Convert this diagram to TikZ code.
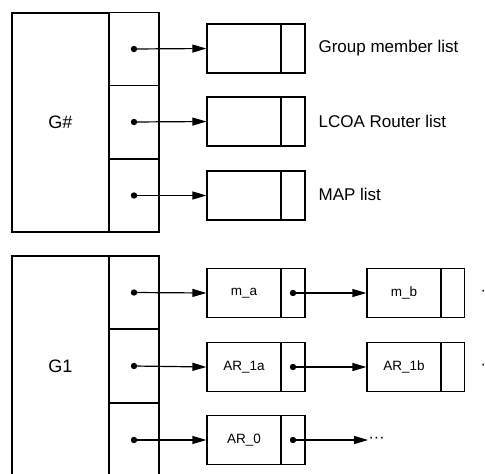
\documentclass[tikz,border=0pt]{standalone}
\usepackage{fontspec}
\setmainfont{Liberation Sans}
\usetikzlibrary{arrows.meta}
\begin{document}
\begin{tikzpicture}[
    x=1pt, y=-1pt,
    every node/.style={draw, line width=1.2pt, inner sep=0pt, font=\fontsize{13.5}{13.5}\selectfont},
    block/.style={minimum width=97pt, font=\fontsize{18}{18}\selectfont},
    cell/.style={minimum width=50pt, minimum height=73pt},
    data/.style={minimum width=74pt, minimum height=49pt},
    ptr/.style={minimum width=24pt, minimum height=49pt},
    caption/.style={draw=none, anchor=west, font=\fontsize{17}{17}\selectfont},
    more/.style={draw=none, anchor=west, font=\fontsize{16}{16}\selectfont},
    link/.style={line width=1.2pt, -{Triangle[length=14pt,width=8pt]}}
  ]
    \useasboundingbox (0,0) rectangle (485,474);
    % group table
    \node[block, minimum height=219pt] (gtab) at (60.5,122.5) {G\#};
    \node[cell] (gmem) at (134,49) {};
    \node[cell] (glcoa) at (134,122) {};
    \node[cell] (gmap) at (134,195.5) {};
    \node[data] (lmem) at (244,48.5) {};  \node[ptr] (lmemp) at (293,48.5) {};
    \node[data] (llcoa) at (244,121.5) {}; \node[ptr] (llcoap) at (293,121.5) {};
    \node[data] (lmap) at (244,195.5) {};  \node[ptr] (lmapp) at (293,195.5) {};
    \node[caption] (cmem) at (318,48) {Group member list};
    \node[caption] (clcoa) at (318,121) {LCOA Router list};
    \node[caption] (cmap) at (318,194) {MAP list};
    \foreach \a/\b in {gmem/lmem, glcoa/llcoa, gmap/lmap} {
      \fill (\a) circle (3.2pt);
      \draw[link] (\a.center) -- (\b.west);
    }
    % G1 entry
    \node[block, minimum height=221pt] (g1tab) at (60.5,366.5) {G1};
    \node[cell] (g1mem) at (134,292.5) {};
    \node[cell] (g1ar) at (134,366) {};
    \node[cell] (g1map) at (134,440) {};
    \node[data] (ma) at (244,293) {m\_a};      \node[ptr] (map) at (293,293) {};
    \node[data] (ar1a) at (244,367) {AR\_1a};  \node[ptr] (ar1ap) at (293,367) {};
    \node[data] (ar0) at (244,440) {AR\_0};    \node[ptr] (ar0p) at (293,440) {};
    \node[data] (mb) at (404,293) {m\_b};      \node[ptr] (mbp) at (452.5,293) {};
    \node[data] (ar1b) at (404,367) {AR\_1b};  \node[ptr] (ar1bp) at (452.5,367) {};
    \node[more] (more1) at (480,293) {···};
    \node[more] (more2) at (480,367) {···};
    \node[more] (more3) at (368,440) {···};
    \foreach \a/\b in {g1mem/ma, g1ar/ar1a, g1map/ar0, map/mb, ar1ap/ar1b, ar0p/more3} {
      \fill (\a) circle (3.2pt);
      \draw[link] (\a.center) -- (\b.west);
    }
\end{tikzpicture}
\end{document}
